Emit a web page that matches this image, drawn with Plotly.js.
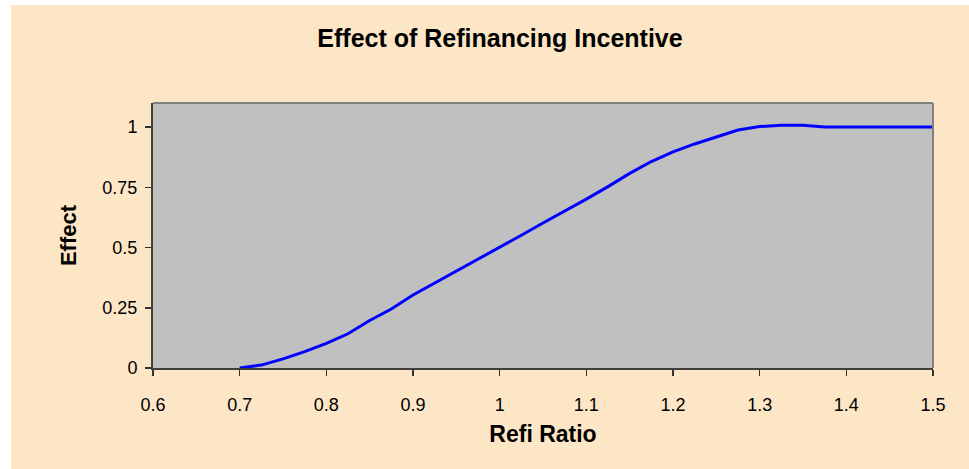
<!DOCTYPE html>
<html>
<head>
<meta charset="utf-8">
<script src="https://cdn.plot.ly/plotly-3.0.1.min.js"></script>
<style>
html,body{margin:0;padding:0;background:#ffffff;}
#chart{position:absolute;left:11px;top:5px;width:958px;height:464px;}
</style>
</head>
<body>
<div id="chart"></div>
<script>
var refiRatio = [0.7, 0.725, 0.75, 0.775, 0.8, 0.825, 0.85, 0.875, 0.9, 0.925, 0.95, 0.975,
  1.0, 1.025, 1.05, 1.075, 1.1, 1.125, 1.15, 1.175, 1.2, 1.225, 1.25, 1.275,
  1.3, 1.325, 1.35, 1.375, 1.4, 1.425, 1.45, 1.475, 1.5];
var effect = [0, 0.012, 0.038, 0.068, 0.102, 0.142, 0.197, 0.245, 0.303, 0.352, 0.402, 0.451,
  0.5, 0.551, 0.602, 0.651, 0.701, 0.753, 0.808, 0.857, 0.897, 0.93, 0.959, 0.988,
  1.002, 1.008, 1.008, 1.0, 1.0, 1.0, 1.0, 1.0, 1.0];
var xTicks = [0.6, 0.7, 0.8, 0.9, 1, 1.1, 1.2, 1.3, 1.4, 1.5];
var xTickText = ['0.6', '0.7', '0.8', '0.9', '1', '1.1', '1.2', '1.3', '1.4', '1.5'];
var yTicks = [0, 0.25, 0.5, 0.75, 1];
var yTickText = ['0', '0.25', '0.5', '0.75', '1'];

var trace = {
  x: refiRatio, y: effect, type: 'scatter', mode: 'lines',
  line: {color: '#0000FF', width: 3},
  hoverinfo: 'skip'
};

var layout = {
  width: 958, height: 464,
  paper_bgcolor: '#FDE6C5',
  plot_bgcolor: '#C0C0C0',
  margin: {l: 142, r: 36, t: 98, b: 101},
  showlegend: false,
  font: {family: 'Liberation Sans, Arial, sans-serif', color: '#000000', size: 18},
  title: {
    text: '<b>Effect of Refinancing Incentive</b>',
    font: {size: 25, family: 'Liberation Sans, Arial, sans-serif', color: '#000000'},
    x: 489 / 958, xanchor: 'center', xref: 'container',
    y: 1 - 33 / 464, yanchor: 'middle', yref: 'container'
  },
  xaxis: {
    range: [0.6, 1.5],
    tickmode: 'array', tickvals: xTicks, ticktext: xTickText,
    ticks: 'outside', ticklen: 6, tickwidth: 1.5, tickcolor: '#333333',
    showline: true, linecolor: '#404040', linewidth: 2,
    showgrid: false, zeroline: false,
    ticklabelstandoff: 13,
    tickfont: {size: 18, color: '#000000'},
    title: {text: '<b>Refi Ratio</b>', font: {size: 23, color: '#000000'}, standoff: 12}
  },
  yaxis: {
    range: [0, 1.1],
    tickmode: 'array', tickvals: yTicks, ticktext: yTickText,
    ticks: 'outside', ticklen: 6, tickwidth: 1.5, tickcolor: '#333333',
    showline: true, linecolor: '#404040', linewidth: 2,
    showgrid: false, zeroline: false,
    ticklabelstandoff: 4,
    tickfont: {size: 18, color: '#000000'},
    title: {text: '<b>Effect</b>', font: {size: 22, color: '#000000'}, standoff: 20}
  },
  shapes: [
    {type: 'line', xref: 'paper', yref: 'paper', x0: 0, x1: 1, y0: 1, y1: 1,
     line: {color: '#808080', width: 2}},
    {type: 'line', xref: 'paper', yref: 'paper', x0: 1, x1: 1, y0: 0, y1: 1,
     line: {color: '#808080', width: 2}}
  ]
};

Plotly.newPlot('chart', [trace], layout, {staticPlot: true, displayModeBar: false});
</script>
</body>
</html>
